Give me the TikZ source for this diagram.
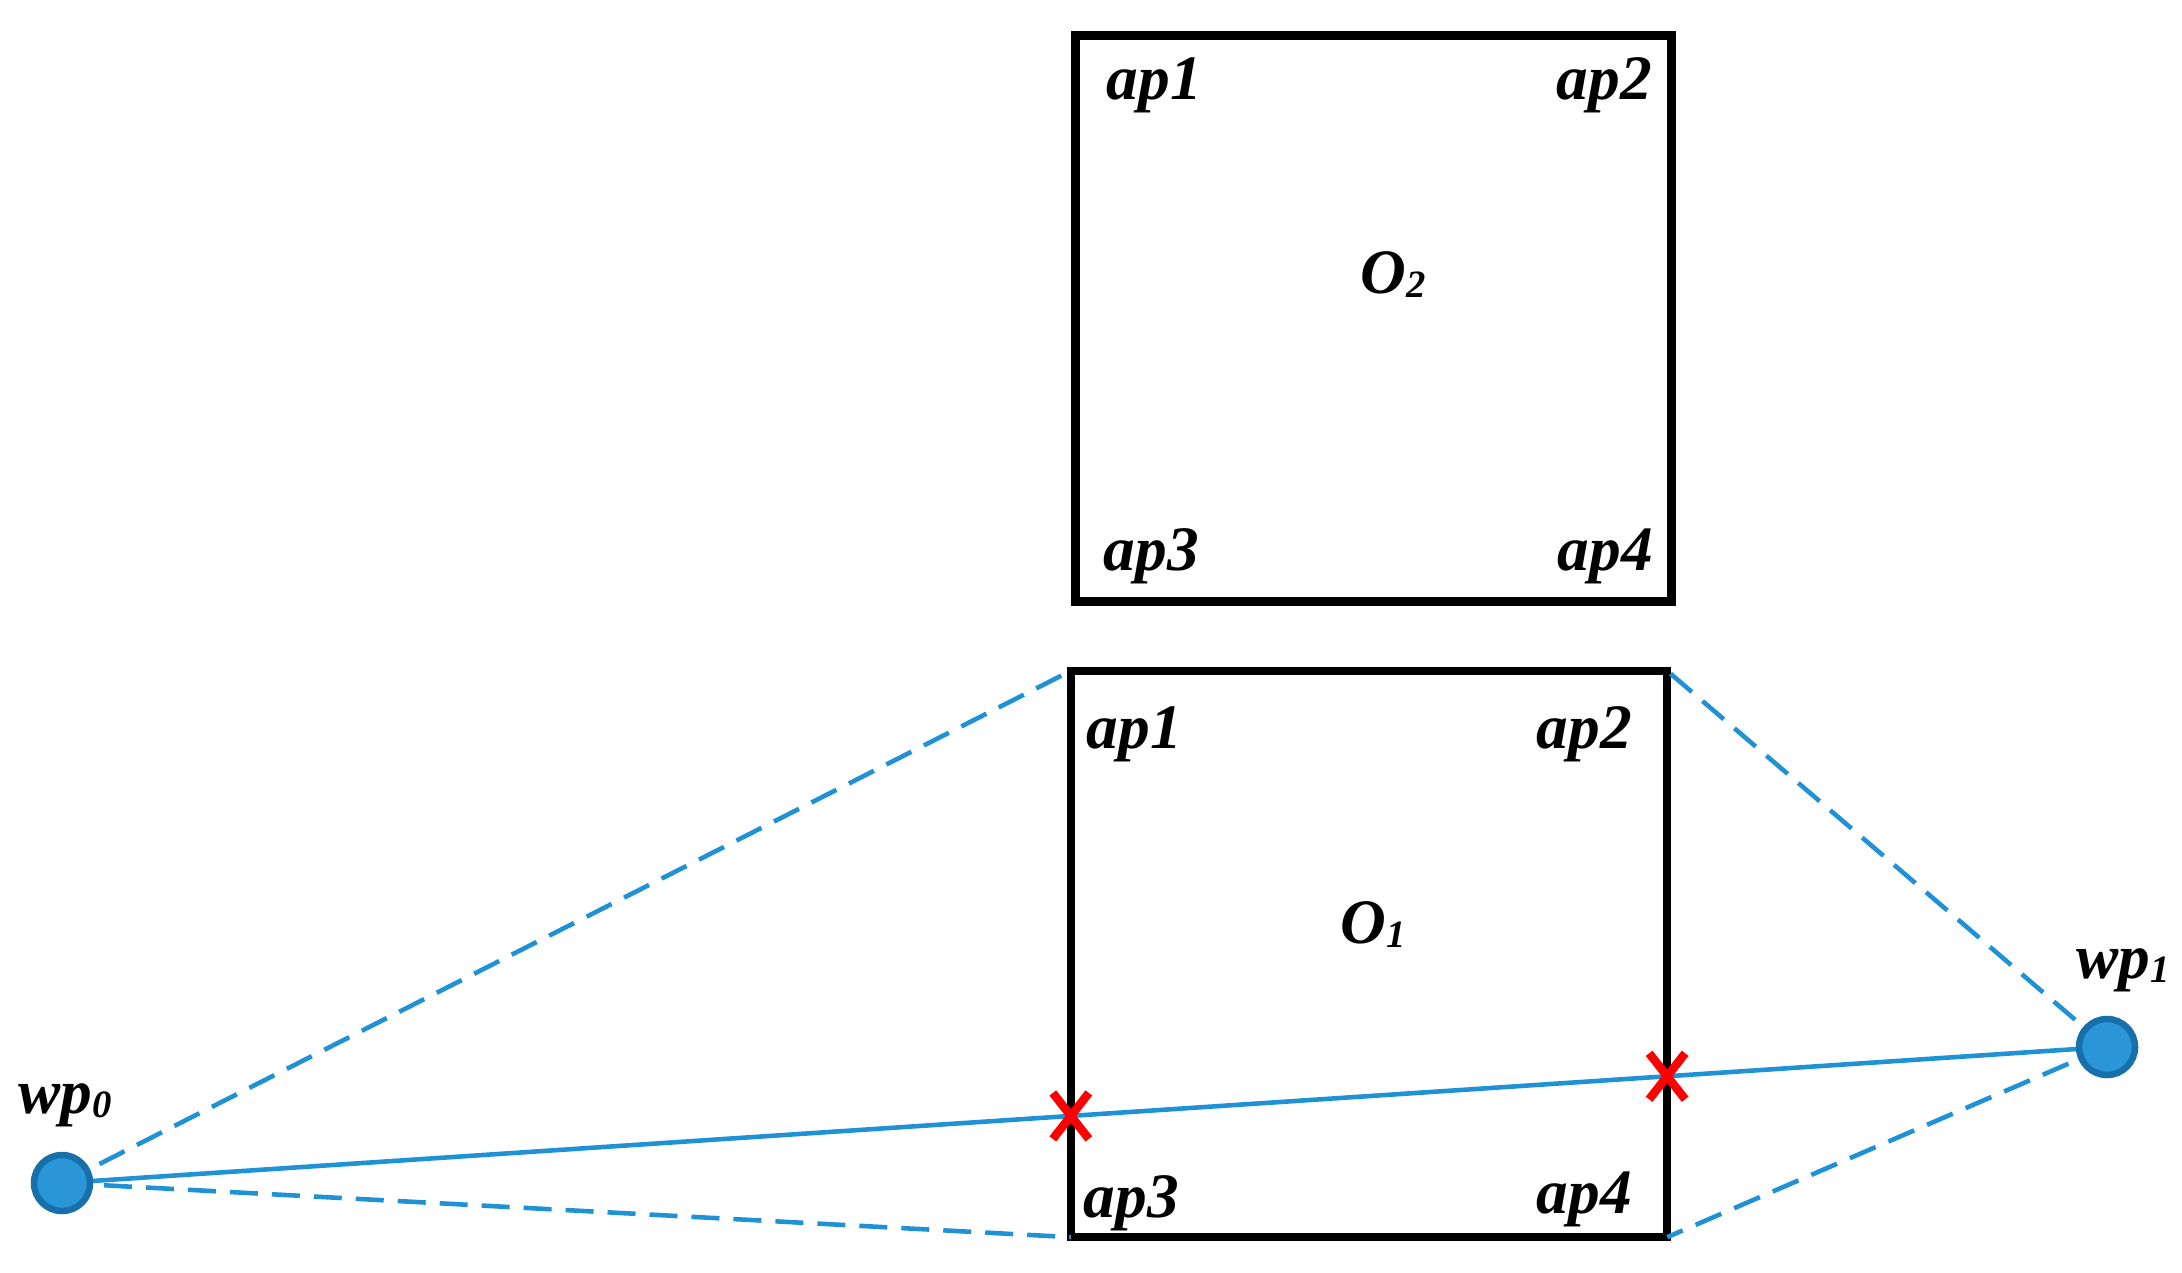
\documentclass[tikz,border=0pt]{standalone}
\usepackage{fontspec}
\setmainfont{Liberation Serif}
\definecolor{lineblue}{RGB}{30,146,212}
\definecolor{dotfill}{RGB}{40,150,215}
\definecolor{dotedge}{RGB}{24,112,170}
\definecolor{xred}{RGB}{255,0,0}
\newcommand{\lbl}{\fontsize{18}{21}\selectfont\bfseries\itshape}
\newcommand{\sbs}[1]{\raisebox{-0.15ex}{\fontsize{11}{12}\selectfont #1}}
\begin{document}
\begin{tikzpicture}[x=0.01cm,y=-0.01cm,
  obox/.style={draw=black,line width=0.085cm,minimum width=5.96cm,minimum height=5.66cm,inner sep=0pt,outer sep=0pt},
  wpdot/.style={circle,fill=dotfill,draw=dotedge,line width=0.065cm,minimum size=0.56cm,inner sep=0pt},
  path/.style={lineblue,line width=1.3pt},
  guide/.style={lineblue,line width=1.3pt,dash pattern=on 0.28cm off 0.14cm},
  lab/.style={anchor=base west,inner sep=0pt,font=\lbl},
  xmark/.style={xred,line width=0.085cm}]
\useasboundingbox (0,0) rectangle (2182,1273);
% boxes
\node[obox] (b2) at (1373.5,318.5) {};
\node[obox] (b1) at (1369,954) {};
% labels top box
\node[lab] (t1) at (1106,100) {ap1};
\node[lab] (t2) at (1556,100) {ap2};
\node[lab] (t3) at (1103,570) {ap3};
\node[lab] (t4) at (1557,570) {ap4};
\node[lab] (o2) at (1360,293) {O\sbs{2}};
% labels bottom box
\node[lab] (s1) at (1086,748) {ap1};
\node[lab] (s2) at (1536,748) {ap2};
\node[lab] (s3) at (1083,1217) {ap3};
\node[lab] (s4) at (1536,1213) {ap4};
\node[lab] (o1) at (1340,943) {O\sbs{1}};
% waypoints
\coordinate (p0) at (62,1183);
\coordinate (p1) at (2107,1047);
\node[lab] (l0) at (18,1113) {wp\sbs{0}};
\node[lab] (l1) at (2076,978) {wp\sbs{1}};
% connectors
\draw[guide] (p0) -- (b1.north west);
\draw[guide] (p0) -- (b1.south west);
\draw[guide] (p1) -- (b1.north east);
\draw[guide] (p1) -- (b1.south east);
\draw[path] (p0) -- (p1);
\node[wpdot] (wp0) at (p0) {};
\node[wpdot] (wp1) at (p1) {};
% crossings
\coordinate (x1) at (intersection of p0--p1 and b1.north west--b1.south west);
\coordinate (x2) at (intersection of p0--p1 and b1.north east--b1.south east);
\draw[xmark] ([shift={(-18,-23)}]x1) -- ([shift={(18,23)}]x1);
\draw[xmark] ([shift={(18,-23)}]x1) -- ([shift={(-18,23)}]x1);
\draw[xmark] ([shift={(-18,-23)}]x2) -- ([shift={(18,23)}]x2);
\draw[xmark] ([shift={(18,-23)}]x2) -- ([shift={(-18,23)}]x2);
\end{tikzpicture}
\end{document}
